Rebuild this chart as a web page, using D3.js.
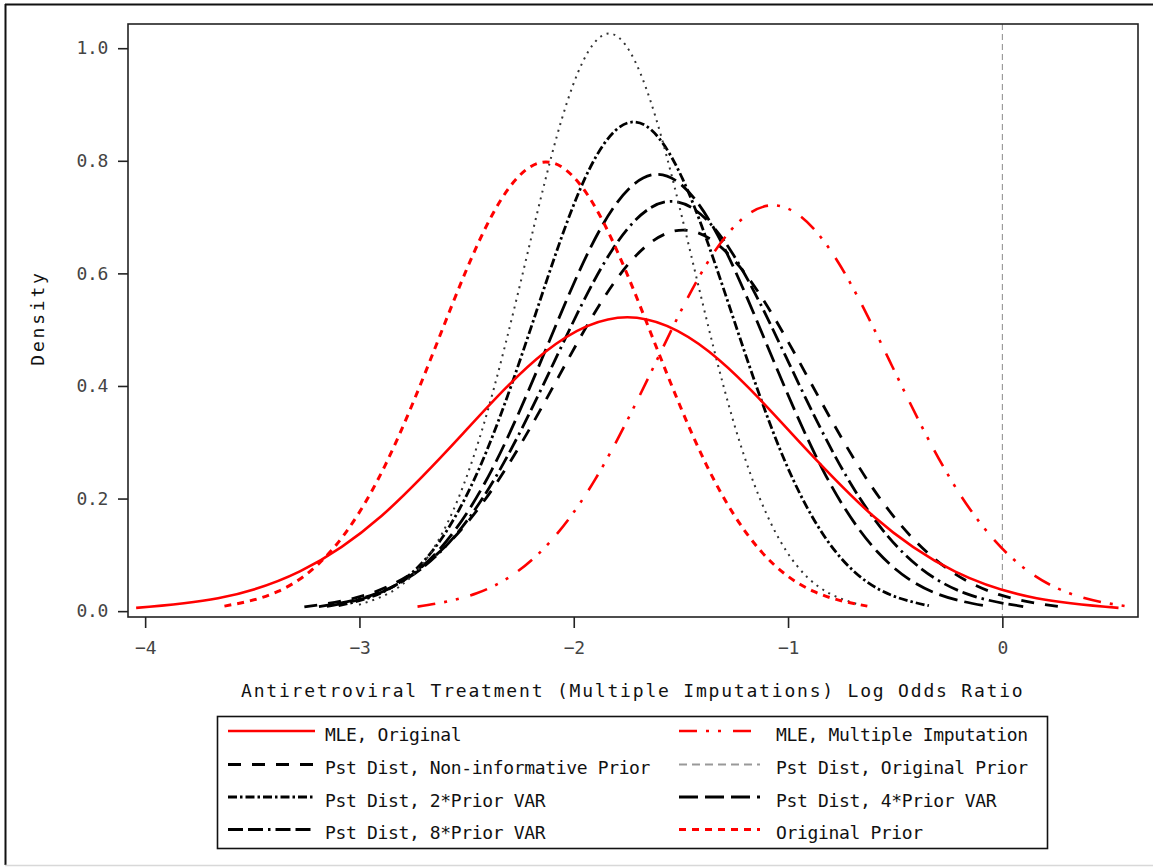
<!DOCTYPE html>
<html>
<head>
<meta charset="utf-8">
<script src="https://cdn.jsdelivr.net/npm/d3@7"></script>
<style>
  html, body { margin: 0; padding: 0; background: #fff; }
  svg { display: block; }
  text { font-family: "DejaVu Sans Mono", "Liberation Mono", monospace; }
</style>
</head>
<body>
<svg id="chart" width="1153" height="867"></svg>
<script>
// Density curves of the antiretroviral-treatment log odds ratio.
// Each series is a list of [log odds ratio, density] points.
const mleOriginal = [
  [-4.042, 0.0058], [-3.660, 0.0229], [-3.278, 0.0706], [-2.896, 0.1695], [-2.514, 0.3166],
  [-2.132, 0.4607], [-1.750, 0.5220], [-1.368, 0.4607], [-0.986, 0.3166], [-0.604, 0.1695],
  [-0.222, 0.0706], [0.160, 0.0229], [0.542, 0.0058]
];
const mleMultipleImputation = [
  [-2.729, 0.0080], [-2.453, 0.0317], [-2.176, 0.0976], [-1.900, 0.2341], [-1.623, 0.4373],
  [-1.347, 0.6363], [-1.070, 0.7210], [-0.794, 0.6363], [-0.517, 0.4373], [-0.241, 0.2341],
  [0.036, 0.0976], [0.313, 0.0317], [0.589, 0.0080]
];
const pstNonInformative = [
  [-3.257, 0.0075], [-2.963, 0.0297], [-2.668, 0.0916], [-2.374, 0.2198], [-2.079, 0.4106],
  [-1.785, 0.5975], [-1.490, 0.6770], [-1.196, 0.5975], [-0.901, 0.4106], [-0.607, 0.2198],
  [-0.312, 0.0916], [-0.018, 0.0297], [0.277, 0.0075]
];
const pstOriginalPrior = [
  [-3.002, 0.0114], [-2.808, 0.0450], [-2.613, 0.1388], [-2.419, 0.3331], [-2.224, 0.6223],
  [-2.030, 0.9054], [-1.835, 1.0260], [-1.641, 0.9054], [-1.446, 0.6223], [-1.252, 0.3331],
  [-1.057, 0.1388], [-0.863, 0.0450], [-0.668, 0.0114]
];
const pst2PriorVar = [
  [-3.097, 0.0096], [-2.868, 0.0381], [-2.638, 0.1176], [-2.409, 0.2822], [-2.179, 0.5270],
  [-1.950, 0.7669], [-1.720, 0.8690], [-1.491, 0.7669], [-1.261, 0.5270], [-1.032, 0.2822],
  [-0.802, 0.1176], [-0.573, 0.0381], [-0.343, 0.0096]
];
const pst4PriorVar = [
  [-3.152, 0.0086], [-2.895, 0.0341], [-2.638, 0.1050], [-2.381, 0.2520], [-2.124, 0.4706],
  [-1.867, 0.6848], [-1.610, 0.7760], [-1.353, 0.6848], [-1.096, 0.4706], [-0.839, 0.2520],
  [-0.582, 0.1050], [-0.325, 0.0341], [-0.068, 0.0086]
];
const pst8PriorVar = [
  [-3.189, 0.0081], [-2.915, 0.0320], [-2.641, 0.0985], [-2.367, 0.2364], [-2.093, 0.4415],
  [-1.819, 0.6425], [-1.545, 0.7280], [-1.271, 0.6425], [-0.997, 0.4415], [-0.723, 0.2364],
  [-0.449, 0.0985], [-0.175, 0.0320], [0.099, 0.0081]
];
const originalPrior = [
  [-3.630, 0.0089], [-3.380, 0.0350], [-3.130, 0.1080], [-2.880, 0.2591], [-2.630, 0.4840],
  [-2.380, 0.7042], [-2.130, 0.7980], [-1.880, 0.7042], [-1.630, 0.4840], [-1.380, 0.2591],
  [-1.130, 0.1080], [-0.880, 0.0350], [-0.630, 0.0089]
];

const xTicks = [-4, -3, -2, -1, 0];
const yTicks = [0, 0.2, 0.4, 0.6, 0.8, 1.0];
const xTitle = "Antiretroviral Treatment (Multiple Imputations) Log Odds Ratio";
const yTitle = "Density";
const referenceX = 0;

// Series in legend order (row by row, left column then right column).
const series = [
  { name: "MLE, Original", data: mleOriginal, color: "#ff0000", width: 2.6, dash: null },
  { name: "MLE, Multiple Imputation", data: mleMultipleImputation, color: "#ff0000", width: 2.6, dash: "18,9,3,9,3,12" },
  { name: "Pst Dist, Non-informative Prior", data: pstNonInformative, color: "#000", width: 2.8, dash: "13,11" },
  { name: "Pst Dist, Original Prior", data: pstOriginalPrior, color: "#333", width: 2, dash: "2,5", legendColor: "#999", legendDash: "8,5" },
  { name: "Pst Dist, 2*Prior VAR", data: pst2PriorVar, color: "#000", width: 2.8, dash: "9,3,2.5,3" },
  { name: "Pst Dist, 4*Prior VAR", data: pst4PriorVar, color: "#000", width: 2.8, dash: "19,7" },
  { name: "Pst Dist, 8*Prior VAR", data: pst8PriorVar, color: "#000", width: 2.8, dash: "15,5,15,5,2.5,5" },
  { name: "Original Prior", data: originalPrior, color: "#ff0000", width: 3, dash: "7,6" }
];

const svg = d3.select("#chart");

// Outer frame of the graph
svg.append("line").attr("x1", 5).attr("x2", 1153).attr("y1", 4.5).attr("y2", 4.5)
  .attr("stroke", "#111").attr("stroke-width", 2);
svg.append("line").attr("x1", 5.5).attr("x2", 5.5).attr("y1", 4).attr("y2", 865)
  .attr("stroke", "#111").attr("stroke-width", 2);
svg.append("line").attr("x1", 5).attr("x2", 1153).attr("y1", 865.5).attr("y2", 865.5)
  .attr("stroke", "#d8d8d8").attr("stroke-width", 1.5);

const plot = { left: 128, right: 1138, top: 24, bottom: 617 };

const x = d3.scaleLinear().domain([-4.08, 0.633]).range([plot.left, plot.right]);
const y = d3.scaleLinear().domain([-0.0104, 1.043]).range([plot.bottom, plot.top]);

svg.append("clipPath").attr("id", "plot-clip")
  .append("rect")
  .attr("x", plot.left).attr("y", plot.top)
  .attr("width", plot.right - plot.left).attr("height", plot.bottom - plot.top);

// Reference line at a log odds ratio of zero
svg.append("line")
  .attr("x1", x(referenceX)).attr("x2", x(referenceX))
  .attr("y1", plot.top).attr("y2", plot.bottom)
  .attr("stroke", "#8a8a8a").attr("stroke-width", 1)
  .attr("stroke-dasharray", "6,4");

const line = d3.line()
  .x(d => x(d[0]))
  .y(d => y(d[1]))
  .curve(d3.curveNatural);

// Black posterior curves first, red curves on top
const drawOrder = [2, 6, 5, 4, 3, 7, 1, 0];
const curves = svg.append("g").attr("clip-path", "url(#plot-clip)");
drawOrder.forEach(i => {
  const s = series[i];
  curves.append("path")
    .datum(s.data)
    .attr("d", line)
    .attr("fill", "none")
    .attr("stroke", s.color)
    .attr("stroke-width", s.width)
    .attr("stroke-dasharray", s.dash)
    .attr("stroke-linecap", "butt")
    .attr("stroke-linejoin", "round");
});

// Axes
const fmtY = d3.format(".1f");
const yAxis = svg.append("g")
  .attr("transform", `translate(${plot.left},0)`)
  .call(d3.axisLeft(y).tickValues(yTicks).tickFormat(fmtY).tickSize(10).tickPadding(10));
const xAxis = svg.append("g")
  .attr("transform", `translate(0,${plot.bottom})`)
  .call(d3.axisBottom(x).tickValues(xTicks).tickFormat(d3.format("d")).tickSize(11).tickPadding(13));

[xAxis, yAxis].forEach(g => {
  g.select(".domain").remove();
  g.selectAll(".tick line").attr("stroke", "#222").attr("stroke-width", 1.6);
  g.selectAll(".tick text")
    .attr("fill", "#444")
    .style("font-family", '"DejaVu Sans Mono", monospace')
    .style("font-size", "18px")
    .style("letter-spacing", "-0.3px");
});

// Plot frame
svg.append("rect")
  .attr("x", plot.left).attr("y", plot.top)
  .attr("width", plot.right - plot.left).attr("height", plot.bottom - plot.top)
  .attr("fill", "none").attr("stroke", "#222").attr("stroke-width", 1.6);

// Axis titles
svg.append("text")
  .attr("x", 241).attr("y", 697)
  .attr("fill", "#111")
  .style("font-size", "18px")
  .style("letter-spacing", "1.8px")
  .text(xTitle);

svg.append("text")
  .attr("transform", "translate(44,318) rotate(-90)")
  .attr("text-anchor", "middle")
  .attr("fill", "#111")
  .style("font-size", "18px")
  .style("letter-spacing", "2.8px")
  .text(yTitle);

// Legend
const legend = { left: 217, top: 716, right: 1047, bottom: 848 };
svg.append("rect")
  .attr("x", legend.left + 0.5).attr("y", legend.top + 0.5)
  .attr("width", legend.right - legend.left).attr("height", legend.bottom - legend.top)
  .attr("fill", "#fff").attr("stroke", "#111").attr("stroke-width", 1.6);

const cols = [
  { x1: 228, x2: 315, tx: 325 },
  { x1: 679, x2: 760, tx: 776 }
];
const rowY = [731, 764.5, 797, 829.5];

series.forEach((s, i) => {
  const row = Math.floor(i / 2), col = cols[i % 2];
  const yy = rowY[row];
  svg.append("line")
    .attr("x1", col.x1).attr("x2", col.x2)
    .attr("y1", yy).attr("y2", yy)
    .attr("stroke", s.legendColor || s.color)
    .attr("stroke-width", s.width)
    .attr("stroke-dasharray", s.legendDash || s.dash);
  svg.append("text")
    .attr("x", col.tx).attr("y", yy + 9.5)
    .attr("fill", "#111")
    .style("font-size", "18px")
    .style("letter-spacing", "-0.35px")
    .text(s.name);
});
</script>
</body>
</html>
